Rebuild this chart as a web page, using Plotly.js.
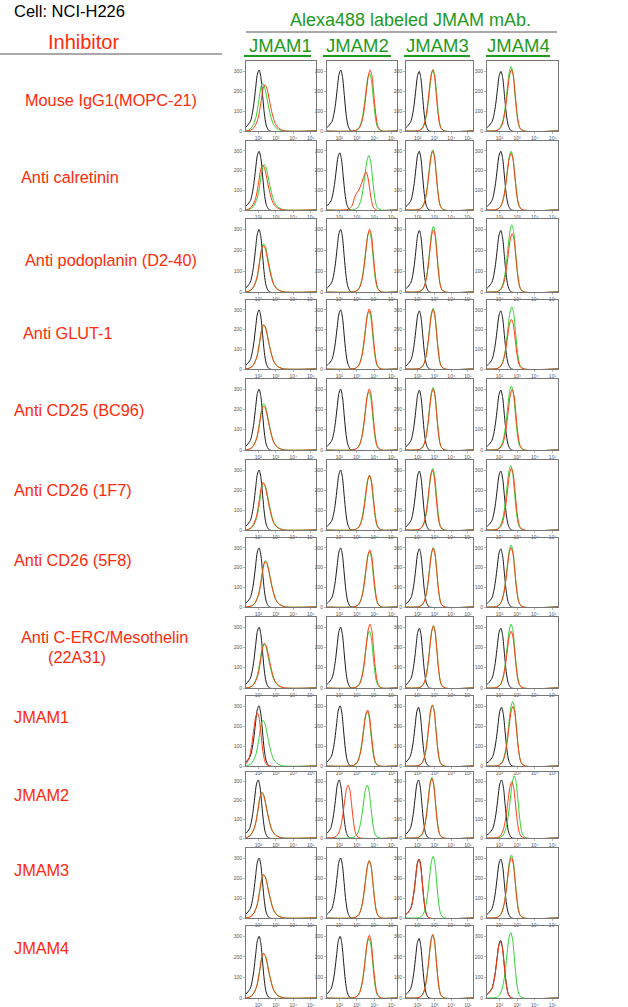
<!DOCTYPE html>
<html>
<head>
<meta charset="utf-8">
<script src="https://cdn.plot.ly/plotly-3.0.1.min.js"></script>
<style>body{margin:0;background:#fff}#chart{width:628px;height:1007px}</style>
</head>
<body>
<div id="chart"></div>
<script>
// inhibitor rows and antibody columns
var inhibitors = ['Mouse IgG1(MOPC-21)', 'Anti calretinin', 'Anti podoplanin (D2-40)', 'Anti GLUT-1',
  'Anti CD25 (BC96)', 'Anti CD26 (1F7)', 'Anti CD26 (5F8)', 'Anti C-ERC/Mesothelin|(22A31)',
  'JMAM1', 'JMAM2', 'JMAM3', 'JMAM4'];
var antibodies = ['JMAM1', 'JMAM2', 'JMAM3', 'JMAM4'];

// histogram profiles (offset from peak in decades -> relative count)
var blackOff  = [-0.9, -0.7, -0.5, -0.4, -0.3, -0.2, -0.1, 0, 0.1, 0.2, 0.3, 0.4, 0.5, 0.6];
var blackVal  = [0.03, 0.08, 0.16, 0.27, 0.45, 0.7, 0.93, 1, 0.88, 0.58, 0.28, 0.1, 0.03, 0];
var wideOff   = [-0.8, -0.6, -0.4, -0.3, -0.2, -0.1, 0, 0.1, 0.2, 0.3, 0.4, 0.5, 0.6, 0.8, 1.0, 1.2];
var wideVal   = [0.02, 0.08, 0.25, 0.42, 0.66, 0.9, 1, 0.95, 0.8, 0.6, 0.42, 0.27, 0.16, 0.06, 0.02, 0];
var narrowOff = [-0.8, -0.6, -0.5, -0.4, -0.3, -0.2, -0.1, 0, 0.1, 0.2, 0.3, 0.4, 0.5, 0.7];
var narrowVal = [0.01, 0.06, 0.13, 0.25, 0.45, 0.7, 0.92, 1, 0.9, 0.62, 0.32, 0.12, 0.04, 0];
var bimodOff  = [-1.0, -0.8, -0.65, -0.55, -0.45, -0.35, -0.25, -0.15, -0.05, 0, 0.1, 0.2, 0.3, 0.4, 0.55];
var bimodVal  = [0.02, 0.12, 0.35, 0.44, 0.5, 0.6, 0.72, 0.86, 0.97, 1, 0.85, 0.55, 0.25, 0.08, 0];

// peak position (log10 intensity) and peak count per panel, rows x columns
var blackPos = [
  [2.05, 2.09, 2.09, 2.09], [2.05, 2.03, 2.09, 2.08], [2.05, 2.08, 2.1, 2.08], [2.05, 2.08, 2.1, 2.08],
  [2.05, 2.08, 2.1, 2.08], [2.05, 2.08, 2.1, 2.08], [2.05, 2.08, 2.1, 2.08], [2.05, 2.08, 2.1, 2.08],
  [2.04, 2.05, 2.05, 2.12], [2.0, 2.0, 2.05, 2.12], [2.05, 2.08, 2.08, 2.08], [2.05, 2.05, 2.08, 2.07]];
var blackH = [
  [305, 305, 298, 298], [298, 290, 298, 298], [300, 300, 295, 295], [300, 300, 295, 295],
  [300, 300, 295, 295], [300, 300, 295, 295], [300, 300, 295, 295], [300, 300, 295, 295],
  [301, 301, 294, 294], [308, 308, 308, 308], [300, 300, 295, 295], [300, 300, 290, 280]];
var greenPos = [
  [2.24, 3.73, 2.92, 2.66], [2.33, 3.69, 2.9, 2.66], [2.3, 3.72, 2.94, 2.7], [2.3, 3.7, 2.92, 2.7],
  [2.3, 3.7, 2.92, 2.68], [2.3, 3.72, 2.9, 2.64], [2.4, 3.73, 2.93, 2.66], [2.32, 3.72, 2.94, 2.66],
  [2.26, 3.6, 2.88, 2.75], [2.2, 3.6, 2.85, 2.84], [2.3, 3.72, 2.92, 2.68], [2.3, 3.7, 2.9, 2.64]];
var greenH = [
  [238, 287, 308, 322], [231, 276, 305, 298], [231, 290, 315, 322], [224, 294, 308, 315],
  [228, 287, 308, 315], [231, 273, 308, 322], [235, 280, 301, 315], [217, 280, 308, 315],
  [228, 273, 305, 322], [241, 280, 322, 329], [217, 287, 308, 315], [217, 290, 308, 318]];
var redPos = [
  [2.37, 3.77, 2.9, 2.68], [2.24, 3.54, 2.9, 2.66], [2.28, 3.74, 2.94, 2.72], [2.3, 3.72, 2.92, 2.68],
  [2.3, 3.72, 2.92, 2.72], [2.27, 3.74, 2.88, 2.68], [2.4, 3.75, 2.93, 2.66], [2.35, 3.76, 2.94, 2.66],
  [1.95, 3.62, 2.88, 2.76], [2.2, 2.51, 2.85, 2.7], [2.3, 3.72, 2.08, 2.68], [2.3, 3.72, 2.9, 2.07]];
var redH = [
  [231, 305, 305, 308], [228, 193, 298, 287], [224, 301, 298, 280], [224, 305, 301, 252],
  [217, 301, 301, 298], [238, 273, 298, 308], [231, 290, 298, 301], [220, 315, 305, 280],
  [266, 280, 305, 298], [241, 280, 315, 298], [217, 287, 294, 301], [217, 305, 308, 273]];
// profile used for each red curve (w wide, n narrow, b shouldered, k control-like)
var redShape = [
  'wnnn', 'wbnn', 'wnnn', 'wnnn', 'wnnn', 'wnnn', 'wnnn', 'wnnn', 'nnnn', 'wnnn', 'wnkn', 'wnnk'];

var xTicks = [100, 1000, 10000, 100000];
var xTickText = ['10²', '10³', '10⁴', '10⁵'];
var yTicks = [0, 100, 200, 300];

// panel boxes in pixels
var W = 628, H = 1007;
var colLeft = [246, 327, 406, 487], colRight = [316, 397, 473, 558];
var rowTop = [61, 141, 219, 300, 379, 460, 538, 617, 696, 772, 848, 926];
var rowBot = [131, 210, 292, 369, 450, 530, 607, 688, 766, 838, 918, 998];

var shapes = {
  k: [blackOff, blackVal], w: [wideOff, wideVal], n: [narrowOff, narrowVal], b: [bimodOff, bimodVal]
};

function curve(key, pos, h) {
  var s = shapes[key];
  var xs = [Math.pow(10, 1.3)], ys = [0];
  s[0].forEach(function (o, i) { xs.push(Math.pow(10, pos + o)); ys.push(s[1][i] * h); });
  xs.push(Math.pow(10, 5.3)); ys.push(0);
  return {x: xs, y: ys};
}

var data = [];
var layout = {
  width: W, height: H,
  margin: {l: 0, r: 0, t: 0, b: 0},
  paper_bgcolor: '#fff', plot_bgcolor: '#fff',
  showlegend: false,
  font: {family: 'Liberation Sans, Arial, sans-serif'},
  annotations: [], shapes: []
};

for (var r = 0; r < 12; r++) {
  for (var c = 0; c < 4; c++) {
    var n = r * 4 + c + 1;
    var xa = 'x' + (n === 1 ? '' : n), ya = 'y' + (n === 1 ? '' : n);
    var lines = [
      [curve('k', blackPos[r][c], blackH[r][c]), '#1a1a1a'],
      [curve(c === 0 ? 'w' : 'n', greenPos[r][c], greenH[r][c]), '#2fd12f'],
      [curve(redShape[r][c], redPos[r][c], redH[r][c]), '#ff3a12']
    ];
    lines.forEach(function (l) {
      data.push({
        x: l[0].x, y: l[0].y, xaxis: xa, yaxis: ya,
        type: 'scatter', mode: 'lines', hoverinfo: 'skip',
        line: {color: l[1], width: 1, shape: 'spline', smoothing: 0.8}
      });
    });
    layout['xaxis' + n] = {
      type: 'log', range: [1.3, 5.3], anchor: ya,
      domain: [colLeft[c] / W, colRight[c] / W],
      showline: true, mirror: true, linecolor: '#777', linewidth: 1,
      ticks: 'outside', ticklen: 2, tickwidth: 0.5, tickcolor: '#777',
      tickvals: xTicks, ticktext: xTickText, tickfont: {size: 5, color: '#555'},
      showgrid: false, zeroline: false, fixedrange: true
    };
    layout['yaxis' + n] = {
      range: [0, 350], anchor: xa,
      domain: [1 - rowBot[r] / H, 1 - rowTop[r] / H],
      showline: true, mirror: true, linecolor: '#777', linewidth: 1,
      ticks: 'outside', ticklen: 2, tickwidth: 0.5, tickcolor: '#777',
      tickvals: yTicks, tickfont: {size: 5, color: '#555'},
      showgrid: false, zeroline: false, fixedrange: true
    };
  }
}

function note(text, x, y, color, size, anchor) {
  layout.annotations.push({
    text: text, x: x / W, y: 1 - y / H, xref: 'paper', yref: 'paper',
    xanchor: anchor || 'left', yanchor: 'middle', showarrow: false,
    font: {color: color, size: size, family: 'Liberation Sans, Arial, sans-serif'}
  });
}
function rule(x0, x1, y, color, w) {
  layout.shapes.push({
    type: 'line', xref: 'paper', yref: 'paper',
    x0: x0 / W, x1: x1 / W, y0: 1 - y / H, y1: 1 - y / H,
    line: {color: color, width: w}
  });
}

var red = '#ff2a0a', green = '#1f9a1f';
note('Cell: NCI-H226', 12, 11, '#000', 16.5);
note('Inhibitor', 83, 42, red, 20, 'center');
rule(0, 222, 54, '#555', 1);
note('Alexa488 labeled JMAM mAb.', 410, 20, green, 18, 'center');
rule(246, 557, 32, '#555', 1);
var headX = [280, 357, 437, 518];
var ulines = [[244, 311], [323, 391], [404, 470], [486, 550]];
antibodies.forEach(function (a, i) {
  note(a, headX[i], 46, green, 18.5, 'center');
  rule(ulines[i][0], ulines[i][1], 56, green, 2);
});

var labelX = [23, 19, 23, 21, 12, 12, 12, 19, 12, 12, 12, 12];
var labelY = [100, 177, 260, 333, 410, 490, 560, 637, 717, 795, 870, 948];
inhibitors.forEach(function (t, i) {
  var parts = t.split('|');
  note(parts[0], labelX[i], labelY[i], red, 16.3);
  if (parts[1]) note(parts[1], 46, labelY[i] + 20, red, 16.3);
});

Plotly.newPlot('chart', data, layout, {staticPlot: true});
</script>
</body>
</html>
